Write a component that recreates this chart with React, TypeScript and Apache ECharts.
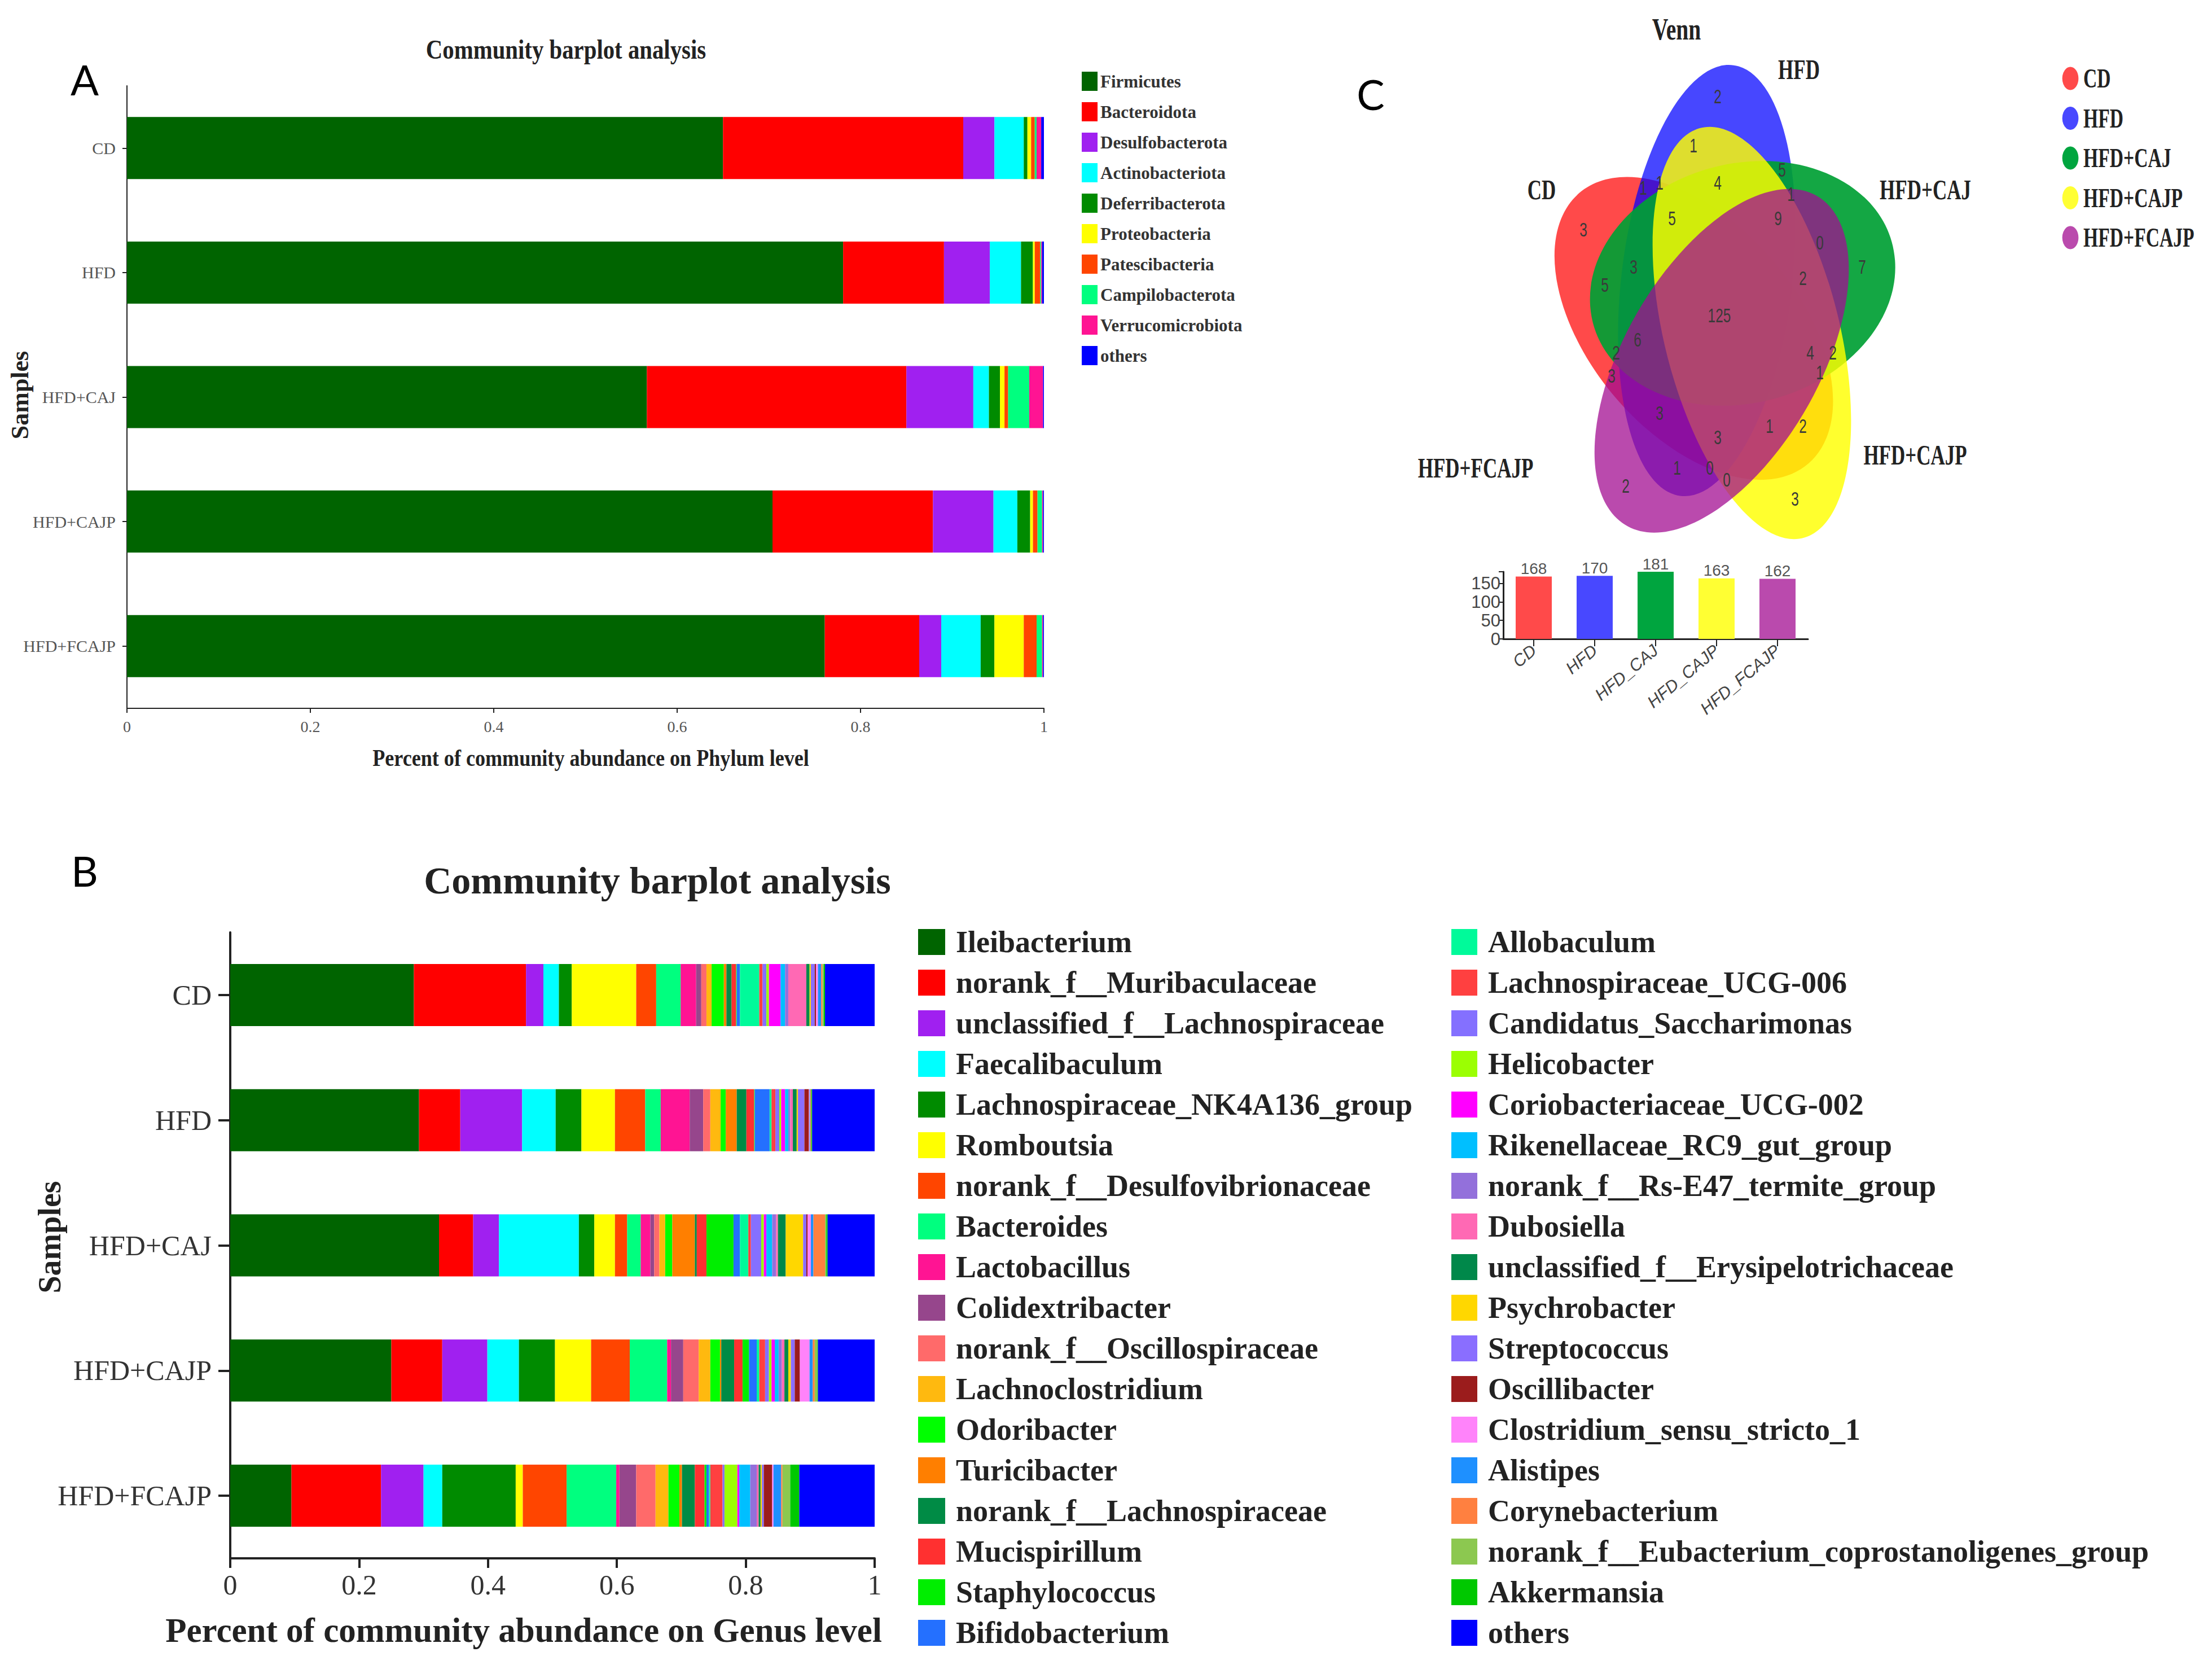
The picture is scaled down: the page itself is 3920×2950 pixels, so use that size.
import React, { useEffect, useRef } from "react";
import * as echarts from "echarts";

// ---------------- DATA ----------------
const samples = ["CD", "HFD", "HFD+CAJ", "HFD+CAJP", "HFD+FCAJP"];

const phylumNames = [
  "Firmicutes", "Bacteroidota", "Desulfobacterota", "Actinobacteriota", "Deferribacterota",
  "Proteobacteria", "Patescibacteria", "Campilobacterota", "Verrucomicrobiota", "others",
];
const phylumCD = [0.650, 0.262, 0.034, 0.032, 0.004, 0.004, 0.004, 0.002, 0.005, 0.003];
const phylumHFD = [0.781, 0.110, 0.050, 0.034, 0.013, 0.002, 0.006, 0.001, 0.001, 0.002];
const phylumCAJ = [0.567, 0.283, 0.073, 0.017, 0.012, 0.005, 0.004, 0.023, 0.015, 0.001];
const phylumCAJP = [0.704, 0.175, 0.066, 0.026, 0.014, 0.003, 0.005, 0.005, 0.001, 0.001];
const phylumFCAJP = [0.761, 0.103, 0.024, 0.043, 0.015, 0.032, 0.014, 0.006, 0.001, 0.001];

const genusNames = [
  "Ileibacterium", "norank_f__Muribaculaceae", "unclassified_f__Lachnospiraceae", "Faecalibaculum",
  "Lachnospiraceae_NK4A136_group", "Romboutsia", "norank_f__Desulfovibrionaceae", "Bacteroides",
  "Lactobacillus", "Colidextribacter", "norank_f__Oscillospiraceae", "Lachnoclostridium",
  "Odoribacter", "Turicibacter", "norank_f__Lachnospiraceae", "Mucispirillum", "Staphylococcus",
  "Bifidobacterium",
  "Allobaculum", "Lachnospiraceae_UCG-006", "Candidatus_Saccharimonas", "Helicobacter",
  "Coriobacteriaceae_UCG-002", "Rikenellaceae_RC9_gut_group", "norank_f__Rs-E47_termite_group",
  "Dubosiella", "unclassified_f__Erysipelotrichaceae", "Psychrobacter", "Streptococcus",
  "Oscillibacter", "Clostridium_sensu_stricto_1", "Alistipes", "Corynebacterium",
  "norank_f__Eubacterium_coprostanoligenes_group", "Akkermansia", "others",
];
const genusCD = [0.285, 0.174, 0.027, 0.024, 0.020, 0.100, 0.031, 0.038, 0.024, 0.008, 0.008, 0.008, 0.019, 0.004, 0.008, 0.007, 0.001, 0.005, 0.030, 0.005, 0.006, 0.004, 0.018, 0.007, 0.005, 0.028, 0.005, 0.002, 0.006, 0.002, 0.003, 0.005, 0.002, 0.002, 0.002, 0.077];
const genusHFD = [0.293, 0.064, 0.096, 0.052, 0.040, 0.052, 0.047, 0.024, 0.045, 0.021, 0.011, 0.016, 0.008, 0.017, 0.015, 0.012, 0.001, 0.023, 0.003, 0.006, 0.006, 0.003, 0.006, 0.005, 0.003, 0.004, 0.006, 0.002, 0.010, 0.007, 0.001, 0.001, 0.001, 0.001, 0.001, 0.097];
const genusCAJ = [0.324, 0.053, 0.040, 0.124, 0.024, 0.032, 0.019, 0.021, 0.015, 0.006, 0.008, 0.009, 0.011, 0.035, 0.003, 0.015, 0.042, 0.010, 0.013, 0.004, 0.016, 0.004, 0.004, 0.009, 0.006, 0.003, 0.012, 0.027, 0.005, 0.002, 0.005, 0.004, 0.018, 0.002, 0.002, 0.073];
const genusCAJP = [0.250, 0.079, 0.070, 0.049, 0.056, 0.056, 0.060, 0.058, 0.006, 0.019, 0.024, 0.018, 0.015, 0.002, 0.020, 0.013, 0.010, 0.012, 0.004, 0.009, 0.006, 0.004, 0.005, 0.006, 0.005, 0.004, 0.006, 0.004, 0.006, 0.008, 0.015, 0.005, 0.003, 0.004, 0.001, 0.088];
const genusFCAJP = [0.095, 0.139, 0.066, 0.029, 0.114, 0.011, 0.068, 0.077, 0.005, 0.026, 0.030, 0.020, 0.017, 0.004, 0.020, 0.015, 0.003, 0.004, 0.002, 0.019, 0.003, 0.020, 0.003, 0.017, 0.010, 0.003, 0.003, 0.002, 0.003, 0.013, 0.002, 0.012, 0.002, 0.012, 0.014, 0.117];

const vennSets = ["CD", "HFD", "HFD+CAJ", "HFD+CAJP", "HFD+FCAJP"];
const vennCounts = [2, 1, 5, 1, 1, 4, 1, 3, 5, 9, 0, 3, 7, 5, 2, 125, 6, 2, 4, 2, 3, 1, 3, 1, 2, 3, 1, 0, 0, 2, 3];
const vennTotalLabels = ["CD", "HFD", "HFD_CAJ", "HFD_CAJP", "HFD_FCAJP"];
const vennTotals = [168, 170, 181, 163, 162];

// ---------------- STYLE / LAYOUT ----------------
const SERIF = '"Liberation Serif", "Times New Roman", serif';
const SANS = '"Liberation Sans", Arial, sans-serif';

const phylumColors = ["#006400", "#FF0000", "#A020F0", "#00FFFF", "#008B00", "#FFFF00", "#FF4500", "#00FF7F", "#FF1493", "#0000FF"];
const genusColors = [
  "#006400", "#FF0000", "#A020F0", "#00FFFF", "#008B00", "#FFFF00", "#FF4500", "#00FF7F", "#FF1493",
  "#96468C", "#FF6A6A", "#FFB90F", "#00FF00", "#FF7F00", "#008B45", "#FF3030", "#00EE00", "#2470FF",
  "#00FA9A", "#FF4040", "#8470FF", "#9BFF02", "#FF00FF", "#00BFFF", "#9370DB", "#FF69B4", "#00884A",
  "#FFD700", "#8A6EFF", "#9B1C1C", "#FF83FA", "#1E90FF", "#FF8040", "#8CC850", "#00C800", "#0000FF",
];
const vennFill = ["rgba(255,0,0,0.71)", "rgba(0,0,255,0.72)", "rgba(0,160,52,0.92)", "rgba(255,255,0,0.82)", "rgba(163,14,146,0.75)"];
const vennSolid = ["#FF4A4A", "#4848FF", "#00A53F", "#FFFF33", "#BA4AAD"];

const vennCountPos = [
  [3044, 171], [3001, 258], [3158, 301], [2912, 333], [2941, 324], [3044, 324], [3174, 344],
  [2806, 407], [2963, 387], [3151, 387], [3225, 430], [2895, 473], [3300, 473], [2844, 505],
  [3195, 493], [3047, 559], [2902, 602], [2864, 625], [3208, 625], [3248, 625], [2856, 666],
  [3225, 660], [2941, 732], [3136, 755], [3195, 755], [3044, 775], [2972, 829], [3030, 829],
  [3060, 850], [2881, 861], [3181, 884],
];
const vennLabelPos = [[2732, 336], [3188, 123], [3412, 336], [3394, 806], [2615, 829]];
const VENN = { cx: 3054, cy: 562, sx: 0.7, a: 388, b: 214, tilt: 12, c0x: -42, c0y: -65 };

function txt(text: string, x: number, y: number, font: string, extra: any = {}) {
  const { fill = "#222", align = "center", scaleX = 1, rotation = 0, opacity = 1 } = extra;
  return {
    type: "text",
    x, y, scaleX, rotation,
    silent: true,
    style: {
      text, font, fill, opacity,
      align, verticalAlign: "middle",
      textAlign: align, textVerticalAlign: "middle",
    },
  };
}

function buildOption() {
  const phylumMatrix = [phylumCD, phylumHFD, phylumCAJ, phylumCAJP, phylumFCAJP];
  const genusMatrix = [genusCD, genusHFD, genusCAJ, genusCAJP, genusFCAJP];

  const phylumSeries = phylumNames.map((name, j) => ({
    type: "bar", name, stack: "phylum", xAxisIndex: 0, yAxisIndex: 0, barWidth: 110,
    itemStyle: { color: phylumColors[j] },
    data: phylumMatrix.map((r) => r[j]),
  }));
  const genusSeries = genusNames.map((name, j) => ({
    type: "bar", name, stack: "genus", xAxisIndex: 1, yAxisIndex: 1, barWidth: 110,
    itemStyle: { color: genusColors[j] },
    data: genusMatrix.map((r) => r[j]),
  }));
  const totalSeries = {
    type: "bar", name: "totals", xAxisIndex: 2, yAxisIndex: 2, barWidth: 64,
    data: vennTotals.map((v, i) => ({ value: v, itemStyle: { color: vennSolid[i] } })),
    label: { show: true, position: "top", distance: 0, fontSize: 28, color: "#555", fontFamily: SANS },
  };

  const ellipses = [0, 1, 2, 3, 4].map((i) => {
    const k = (i + 4) % 5;
    const th = (72 * k * Math.PI) / 180;
    const x = VENN.c0x * Math.cos(th) - VENN.c0y * Math.sin(th);
    const y = VENN.c0x * Math.sin(th) + VENN.c0y * Math.cos(th);
    return {
      type: "ellipse",
      x, y,
      rotation: (-(VENN.tilt + 72 * k) * Math.PI) / 180,
      shape: { cx: 0, cy: 0, rx: VENN.b, ry: VENN.a },
      style: { fill: vennFill[i] },
      silent: true,
    };
  });

  const countTexts = vennCounts.map((c, i) =>
    txt(String(c), vennCountPos[i][0], vennCountPos[i][1], `35px ${SANS}`, { fill: "#3a3a3a", scaleX: 0.7 })
  );
  const setLabels = vennSets.map((s, i) =>
    txt(s, vennLabelPos[i][0], vennLabelPos[i][1], `bold 50px ${SERIF}`, { fill: "#222", scaleX: 0.7 })
  );

  const legendC: any[] = [];
  vennSets.forEach((s, i) => {
    const y = 139 + i * 70.5;
    legendC.push({ type: "circle", shape: { cx: 0, cy: y, r: 20.5 }, style: { fill: vennSolid[i] }, silent: true });
    legendC.push(txt(s, 33, y, `bold 48px ${SERIF}`, { fill: "#222", align: "left" }));
  });

  const graphic = [
    txt("A", 150, 140, `74px Lato, "Open Sans", sans-serif`, { fill: "#000" }),
    txt("B", 150, 1542, `74px Lato, "Open Sans", sans-serif`, { fill: "#000" }),
    txt("C", 2429, 166, `74px Lato, "Open Sans", sans-serif`, { fill: "#000" }),
    txt("Community barplot analysis", 1003, 88, `bold 48px ${SERIF}`, { scaleX: 0.85 }),
    txt("Samples", 35, 700, `bold 44px ${SERIF}`, { rotation: Math.PI / 2 }),
    txt("Percent of community abundance on Phylum level", 1047, 1343, `bold 42px ${SERIF}`, { scaleX: 0.86 }),
    txt("Community barplot analysis", 1165, 1560, `bold 68px ${SERIF}`),
    txt("Samples", 88, 2192, `bold 56px ${SERIF}`, { rotation: Math.PI / 2 }),
    txt("Percent of community abundance on Genus level", 928, 2888, `bold 61px ${SERIF}`),
    txt("Venn", 2971, 51, `bold 55px ${SERIF}`, { scaleX: 0.72 }),
    { type: "group", x: VENN.cx, y: VENN.cy, scaleX: VENN.sx, children: ellipses, silent: true },
    ...setLabels,
    ...countTexts,
    { type: "group", x: 3669, y: 0, scaleX: 0.7, children: legendC, silent: true },
  ];

  const valueAxisBase = (gridIndex: number, fontSize: number, color: string, tickLen: number, margin: number, lineW: number) => ({
    type: "value", gridIndex, min: 0, max: 1, interval: 0.2,
    axisLine: { show: true, lineStyle: { color: "#222", width: lineW } },
    axisTick: { show: true, length: tickLen, lineStyle: { color: "#222", width: lineW } },
    splitLine: { show: false },
    axisLabel: {
      fontFamily: SERIF, fontSize, color, margin,
      formatter: (v: number) => String(Math.round(v * 10) / 10),
    },
  });
  const catAxisBase = (gridIndex: number, fontSize: number, color: string, tickLen: number, margin: number, lineW: number) => ({
    type: "category", gridIndex, data: samples, inverse: true,
    axisLine: { show: true, lineStyle: { color: "#222", width: lineW } },
    axisTick: { show: true, alignWithLabel: true, length: tickLen, lineStyle: { color: "#222", width: lineW } },
    axisLabel: { fontFamily: SERIF, fontSize, color, margin },
  });

  return {
    animation: false,
    backgroundColor: "#ffffff",
    grid: [
      { left: 225, top: 152, width: 1625, height: 1103 },
      { left: 408, top: 1652, width: 1142, height: 1109 },
      { left: 2664, top: 1013, width: 540, height: 119 },
    ],
    xAxis: [
      valueAxisBase(0, 28, "#555", 8, 18, 2),
      valueAxisBase(1, 50, "#333", 17, 22, 4),
      {
        type: "category", gridIndex: 2, data: vennTotalLabels,
        axisLine: { show: true, lineStyle: { color: "#222", width: 3 } },
        axisTick: { show: true, alignWithLabel: true, length: 13, lineStyle: { color: "#222", width: 2 } },
        axisLabel: { rotate: 40, fontStyle: "italic", fontFamily: SANS, fontSize: 30, color: "#444", margin: 16, interval: 0 },
      },
    ],
    yAxis: [
      catAxisBase(0, 30, "#555", 8, 20, 2),
      catAxisBase(1, 50, "#333", 21, 33, 4),
      {
        type: "value", gridIndex: 2, min: 0, max: 181, interval: 50,
        axisLine: { show: true, lineStyle: { color: "#222", width: 3 } },
        axisTick: { show: true, length: 8, lineStyle: { color: "#222", width: 2 } },
        splitLine: { show: false },
        axisLabel: {
          fontFamily: SANS, fontSize: 31, color: "#444", margin: 5,
          showMinLabel: true, hideOverlap: false,
          formatter: (v: number) => (v % 50 === 0 ? String(v) : ""),
        },
      },
    ],
    legend: [
      {
        data: phylumNames, orient: "vertical", left: 1917, top: 127, padding: 0,
        itemWidth: 28, itemHeight: 34, itemGap: 20, icon: "rect", selectedMode: false,
        textStyle: { fontFamily: SERIF, fontWeight: "bold", fontSize: 31, color: "#333" },
      },
      {
        data: genusNames.slice(0, 18), orient: "vertical", left: 1627, top: 1642, padding: 0,
        itemWidth: 48, itemHeight: 46, itemGap: 18, icon: "rect", selectedMode: false,
        textStyle: { fontFamily: SERIF, fontWeight: "bold", fontSize: 54, color: "#222", padding: [0, 0, 0, 14] },
      },
      {
        data: genusNames.slice(18), orient: "vertical", left: 2572, top: 1642, padding: 0,
        itemWidth: 46, itemHeight: 46, itemGap: 18, icon: "rect", selectedMode: false,
        textStyle: { fontFamily: SERIF, fontWeight: "bold", fontSize: 54, color: "#222", padding: [0, 0, 0, 14] },
      },
    ],
    graphic,
    series: [...phylumSeries, ...genusSeries, totalSeries],
  };
}

export default function App() {
  const ref = useRef<HTMLDivElement>(null);
  useEffect(() => {
    document.body.style.margin = "0";
    if (!ref.current) return;
    const chart = echarts.init(ref.current, undefined, { renderer: "svg" });
    chart.setOption(buildOption() as any);
    return () => chart.dispose();
  }, []);
  return <div ref={ref} style={{ width: 3920, height: 2950, background: "#fff" }} />;
}
